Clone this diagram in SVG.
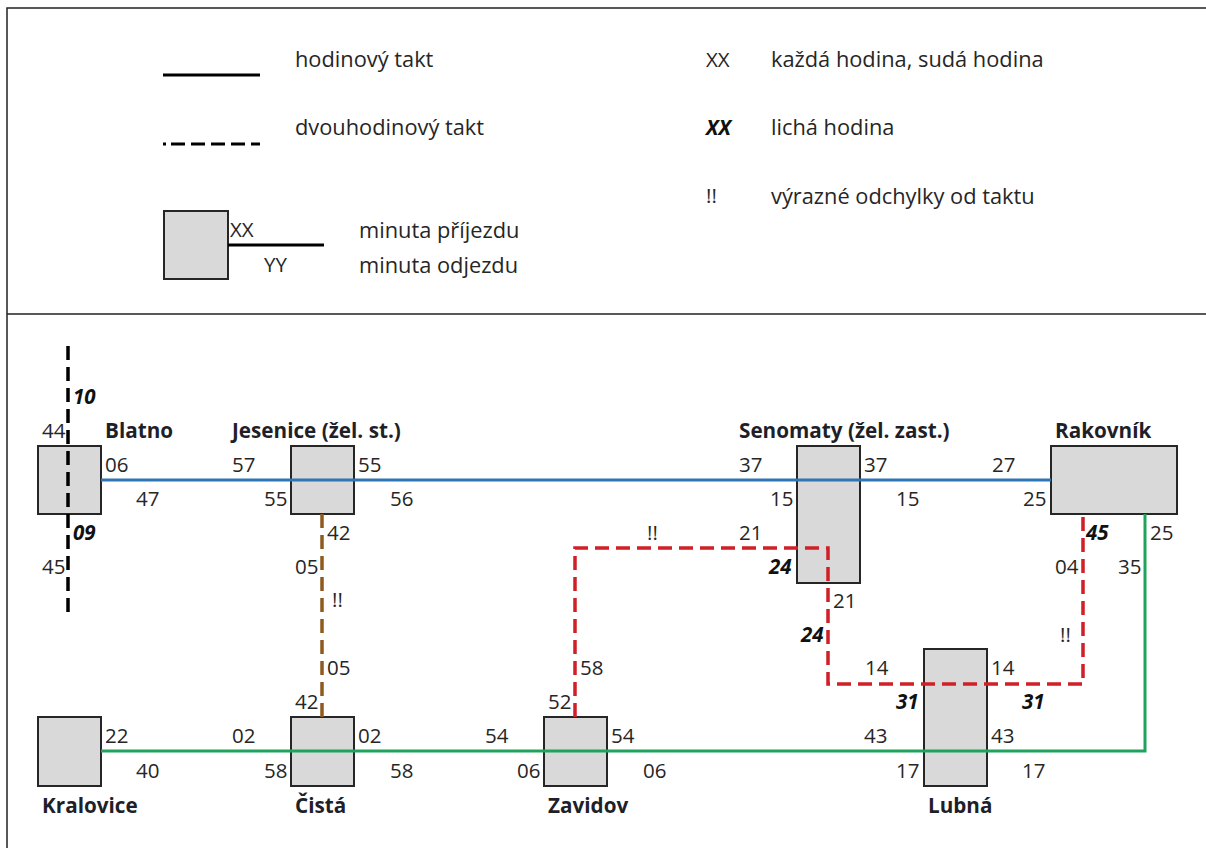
<svg xmlns="http://www.w3.org/2000/svg" width="1206" height="848" viewBox="0 0 1206 848">
<style>
text{font-family:"Open Sans","Noto Sans",sans-serif;font-size:20.5px;fill:#262626}
.w{font-size:21.8px}
.b{font-weight:700;fill:#1f1f2a;font-size:20.7px}
.i{font-weight:700;font-style:italic;fill:#111;font-size:20.5px}
.box{fill:#d9d9d9;stroke:#262626;stroke-width:2}
.ln{fill:none;stroke-width:3}
.d{stroke-dasharray:14 7;stroke-width:3.5}
.frame{fill:none;stroke:#222;stroke-width:1.5}
</style>
<rect width="1206" height="848" fill="#fff"/>
<path class="frame" d="M1206 8H7V848M7 314H1206"/>
<g id="legend">
<path class="ln" stroke="#000" d="M163 75H260"/>
<path class="ln" stroke="#000" d="M163 144H260" stroke-dasharray="3 5 14 6 14 6 14 6 14 6 14"/>
<rect class="box" x="164" y="211" width="64" height="68"/>
<path class="ln" stroke="#000" d="M228 245H324"/>
<text class="w" x="295" y="67">hodinový takt</text>
<text class="w" x="295" y="135">dvouhodinový takt</text>
<text x="230" y="237">XX</text>
<text x="264" y="272">YY</text>
<text class="w" x="359" y="238">minuta příjezdu</text>
<text class="w" x="359" y="273">minuta odjezdu</text>
<text x="706" y="67">XX</text>
<text class="w" x="771" y="67">každá hodina, sudá hodina</text>
<text class="i" x="706" y="135">XX</text>
<text class="w" x="771" y="135">lichá hodina</text>
<text x="706" y="203">!!</text>
<text class="w" x="771" y="204">výrazné odchylky od taktu</text>
</g>
<g id="node-blatno"><rect class="box" x="38" y="446" width="63" height="68"/><text class="b" x="105" y="438">Blatno</text></g>
<g id="node-jesenice"><rect class="box" x="291" y="446" width="63" height="68"/><text class="b" x="232" y="438">Jesenice (žel. st.)</text></g>
<g id="node-senomaty"><rect class="box" x="797" y="446" width="63" height="137"/><text class="b" x="739" y="438">Senomaty (žel. zast.)</text></g>
<g id="node-rakovnik"><rect class="box" x="1051" y="446" width="126" height="68"/><text class="b" x="1055" y="438">Rakovník</text></g>
<g id="node-lubna"><rect class="box" x="924" y="649" width="63" height="137"/><text class="b" x="928" y="813">Lubná</text></g>
<g id="node-kralovice"><rect class="box" x="38" y="717" width="63" height="69"/><text class="b" x="42" y="813">Kralovice</text></g>
<g id="node-cista"><rect class="box" x="291" y="717" width="63" height="69"/><text class="b" x="295" y="813">Čistá</text></g>
<g id="node-zavidov"><rect class="box" x="544" y="717" width="63" height="69"/><text class="b" x="548" y="813">Zavidov</text></g>
<g id="connectors">
<path class="ln" stroke="#2e75b6" d="M101 480H1051"/>
<path class="ln" stroke="#1fa35c" d="M101 751H1145V514"/>
<path class="ln d" stroke="#000" d="M68 346V617"/>
<path class="ln d" stroke="#8f5a1e" d="M322 514V717"/>
<path class="ln d" stroke="#d01f26" d="M575 717V548H828V684H1083V514"/>
</g>
<g id="labels">
<text class="i" x="73" y="404">10</text>
<text x="42" y="438">44</text>
<text x="105" y="472">06</text>
<text x="136" y="506">47</text>
<text class="i" x="73" y="540">09</text>
<text x="42" y="574">45</text>
<text x="232" y="472">57</text>
<text x="264" y="506">55</text>
<text x="358" y="472">55</text>
<text x="390" y="506">56</text>
<text x="327" y="540">42</text>
<text x="295" y="574">05</text>
<text x="332" y="607">!!</text>
<text x="327" y="675">05</text>
<text x="295" y="709">42</text>
<text x="232" y="743">02</text>
<text x="264" y="778">58</text>
<text x="358" y="743">02</text>
<text x="390" y="778">58</text>
<text x="105" y="743">22</text>
<text x="136" y="778">40</text>
<text x="485" y="743">54</text>
<text x="517" y="778">06</text>
<text x="611" y="743">54</text>
<text x="643" y="778">06</text>
<text x="548" y="709">52</text>
<text x="580" y="675">58</text>
<text x="647" y="540">!!</text>
<text x="739" y="540">21</text>
<text x="739" y="472">37</text>
<text x="770" y="506">15</text>
<text x="864" y="472">37</text>
<text x="896" y="506">15</text>
<text class="i" x="769" y="574">24</text>
<text x="833" y="608">21</text>
<text class="i" x="801" y="642">24</text>
<text x="865" y="675">14</text>
<text x="991" y="675">14</text>
<text class="i" x="896" y="709">31</text>
<text class="i" x="1022" y="709">31</text>
<text x="864" y="743">43</text>
<text x="896" y="778">17</text>
<text x="991" y="743">43</text>
<text x="1022" y="778">17</text>
<text x="992" y="472">27</text>
<text x="1023" y="506">25</text>
<text class="i" x="1086" y="540">45</text>
<text x="1150" y="540">25</text>
<text x="1055" y="574">04</text>
<text x="1118" y="574">35</text>
<text x="1060" y="642">!!</text>
</g>
</svg>
